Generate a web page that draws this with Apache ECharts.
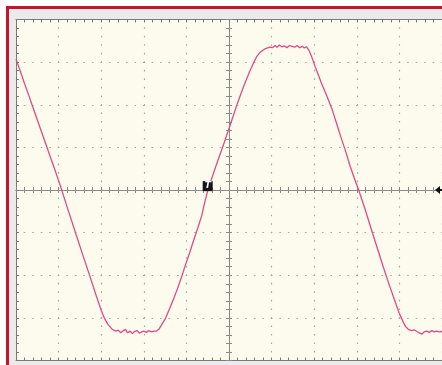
<!DOCTYPE html>
<html>
<head>
<meta charset="utf-8">
<script src="https://cdn.jsdelivr.net/npm/echarts@6/dist/echarts.min.js"></script>
<style>
  html, body { margin: 0; padding: 0; background: #ffffff; }
  #wrap { position: relative; width: 442px; height: 365px; overflow: hidden; background: #ffffff; }
  #frame { position: absolute; left: 6px; top: 6px; width: 440px; height: 362px;
           border-left: 3px solid #c4142e; border-top: 3px solid #c4142e; background: #ebebeb; }
  #chart { position: absolute; left: 0; top: 0; width: 442px; height: 365px; }
</style>
</head>
<body>
<div id="wrap">
  <div id="frame"></div>
  <div id="chart"></div>
</div>
<script>
// Time in horizontal divisions (centre = 0), voltage in vertical divisions
const timeDiv = [
  -5.00, -4.90, -4.80, -4.70, -4.60, -4.50, -4.40, -4.30, -4.20, -4.10, -4.00, -3.93, -3.78, -3.62, -3.45, -3.28, -3.12, -3.00, -2.93, -2.85, -2.75, -2.66,
  -2.60, -2.54, -2.48, -2.43, -2.38, -2.32, -2.27, -2.22, -2.16, -2.10, -2.05, -2.00, -1.94, -1.88, -1.82, -1.76, -1.70,
  -1.64, -1.58, -1.50, -1.40, -1.30, -1.20, -1.11, -1.02, -0.92, -0.82, -0.72, -0.64, -0.56, -0.49, -0.30, -0.13, 0.02, 0.18, 0.28, 0.38, 0.48, 0.57, 0.65, 0.73, 0.84, 0.96,
  1.02, 1.08, 1.13, 1.18, 1.24, 1.30, 1.36, 1.42, 1.48, 1.54, 1.60, 1.66, 1.72, 1.77, 1.82,
  1.88, 1.95, 2.02, 2.10, 2.18, 2.30, 2.41, 2.53, 2.65, 2.75, 2.84, 2.94, 3.04, 3.20, 3.35, 3.48, 3.62, 3.76, 3.90, 4.00, 4.09, 4.15, 4.21, 4.28,
  4.35, 4.41, 4.47, 4.53, 4.58, 4.64, 4.70, 4.76, 4.82, 4.88, 4.94, 5.00
];
const voltDiv = [
  3.07, 2.79, 2.50, 2.22, 1.93, 1.65, 1.36, 1.08, 0.79, 0.51, 0.22, 0.01, -0.46, -0.95, -1.47, -1.98, -2.47, -2.82, -3.00, -3.14, -3.26, -3.31,
  -3.29, -3.35, -3.30, -3.27, -3.35, -3.31, -3.37, -3.32, -3.30, -3.36, -3.33, -3.31, -3.34, -3.30, -3.33, -3.31, -3.31,
  -3.26, -3.16, -3.03, -2.80, -2.55, -2.29, -2.03, -1.75, -1.46, -1.15, -0.85, -0.60, -0.25, 0.02, 0.58, 1.06, 1.50, 1.98, 2.26, 2.52, 2.77, 2.97, 3.13, 3.23, 3.31, 3.35,
  3.34, 3.39, 3.35, 3.40, 3.36, 3.38, 3.34, 3.39, 3.37, 3.35, 3.39, 3.34, 3.37, 3.33, 3.36,
  3.27, 3.10, 2.90, 2.69, 2.48, 2.20, 1.92, 1.55, 1.17, 0.87, 0.57, 0.28, 0.01, -0.47, -0.95, -1.36, -1.80, -2.22, -2.62, -2.90, -3.10, -3.21, -3.27, -3.30,
  -3.28, -3.32, -3.35, -3.38, -3.33, -3.31, -3.34, -3.30, -3.33, -3.31, -3.33, -3.32
];
const xRange = [-5, 5];
const yRange = [-4, 4];
const triggerLabel = 'T';

const points = timeDiv.map((t, i) => [t, voltDiv[i]]);

const axisGray = '#8a8a8a';
const edgeGray = '#7a7a7a';
const dotGray = '#a8a8a8';
const dots = { color: dotGray, width: 1.2, type: [1.6, 6.92], dashOffset: 0.8 };

function xAx(pos, onZero, inside, split) {
  return {
    type: 'value', min: xRange[0], max: xRange[1], interval: 1, position: pos,
    axisLine: { show: true, onZero: onZero, lineStyle: { color: onZero ? axisGray : edgeGray, width: 1 } },
    axisTick: { show: true, inside: inside, length: 3, lineStyle: { color: onZero ? axisGray : edgeGray } },
    minorTick: { show: true, splitNumber: 5, length: 3, lineStyle: { color: onZero ? axisGray : edgeGray } },
    axisLabel: { show: false },
    splitLine: { show: split, lineStyle: dots },
    minorSplitLine: { show: false }
  };
}
function yAx(pos, onZero, inside, split) {
  return {
    type: 'value', min: yRange[0], max: yRange[1], interval: 1, position: pos,
    axisLine: { show: true, onZero: onZero, lineStyle: { color: onZero ? axisGray : edgeGray, width: 1 } },
    axisTick: { show: true, inside: inside, length: 3, lineStyle: { color: onZero ? axisGray : edgeGray } },
    minorTick: { show: true, splitNumber: 5, length: 3, lineStyle: { color: onZero ? axisGray : edgeGray } },
    axisLabel: { show: false },
    splitLine: { show: split, lineStyle: dots },
    minorSplitLine: { show: false }
  };
}

const chart = echarts.init(document.getElementById('chart'), null, { renderer: 'canvas' });
chart.setOption({
  animation: false,
  backgroundColor: 'transparent',
  grid: { left: 16, top: 19.5, right: 0, bottom: 4.5, show: true, backgroundColor: '#fcfbee', borderWidth: 0 },
  xAxis: [
    xAx('bottom', true, false, true),
    xAx('top', true, false, false),
    xAx('bottom', false, true, false),
    xAx('top', false, true, false)
  ],
  yAxis: [
    yAx('left', true, false, true),
    yAx('right', true, false, false),
    yAx('left', false, true, false)
  ],
  series: [{
    type: 'line',
    xAxisIndex: 0, yAxisIndex: 0,
    data: points,
    showSymbol: false,
    smooth: false,
    lineStyle: { color: '#de4b86', width: 1.3 },
    z: 5
  }]
});

// trigger marker and level arrow positioned through the axes
const trigT = -0.5, trigV = 0.02;
const tp = chart.convertToPixel({ xAxisIndex: 0, yAxisIndex: 0 }, [trigT, trigV]);
const ap = chart.convertToPixel({ xAxisIndex: 0, yAxisIndex: 0 }, [xRange[1], 0]);
chart.setOption({
  graphic: [
    { type: 'rect', shape: { x: tp[0] - 5, y: tp[1] - 8, width: 10, height: 10 }, style: { fill: '#151515' }, z: 10 },
    { type: 'text', x: tp[0], y: tp[1] - 3, style: { text: triggerLabel, fill: '#f4f4f4', font: 'italic bold 9px "DejaVu Sans"', align: 'center', verticalAlign: 'middle' }, z: 11 },
    { type: 'polygon', shape: { points: [[ap[0] - 7, ap[1]], [ap[0] - 2, ap[1] - 4], [ap[0] - 2, ap[1] + 4]] }, style: { fill: '#111' }, z: 10 },
    { type: 'rect', shape: { x: ap[0] - 3, y: ap[1] - 1, width: 3, height: 2 }, style: { fill: '#111' }, z: 10 }
  ]
});
</script>
</body>
</html>
